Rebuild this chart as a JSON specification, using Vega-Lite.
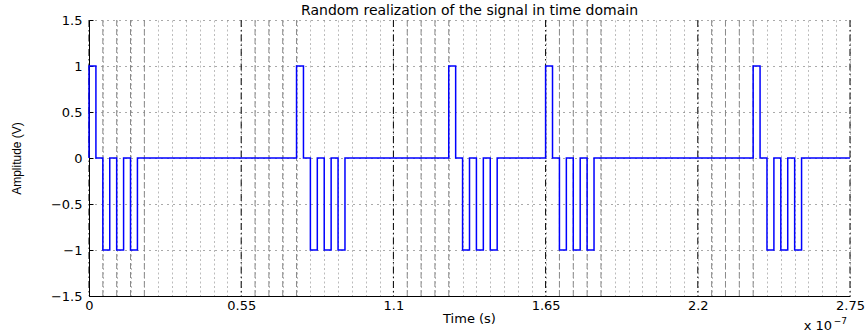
{
  "$schema": "https://vega.github.io/schema/vega-lite/v6.json",
  "width": 761,
  "height": 276,
  "autosize": {"type": "none"},
  "padding": {"left": 89, "top": 20, "right": 16, "bottom": 39},
  "background": "white",
  "config": {
    "view": {"stroke": null},
    "font": "DejaVu Sans",
    "axisX": {
      "labelExpr": "datum.value % 55 === 0 ? toString(datum.value / 100) : ''",
      "labelOverlap": false,
      "labelFlush": false,
      "labelFont": "DejaVu Sans",
      "labelFontSize": 13,
      "labelColor": "black",
      "labelPadding": 7,
      "tickSize": -4,
      "tickColor": "black",
      "tickOpacity": {"condition": {"test": "datum.value % 55 === 0", "value": 1}, "value": 0},
      "grid": true,
      "gridColor": "#bcbcbc",
      "gridDash": [2, 2.5],
      "gridWidth": 1,
      "domainColor": "black",
      "domainWidth": 1,
      "titleFont": "DejaVu Sans",
      "titleFontSize": 13,
      "titleFontWeight": "normal",
      "titleColor": "black",
      "titleX": 380,
      "titleY": 22,
      "titleAlign": "center",
      "titleBaseline": "middle"
    },
    "axisY": {
      "labelExpr": "replace(toString(datum.value), '-', '\u2212')",
      "labelOverlap": false,
      "labelFlush": false,
      "labelFont": "DejaVu Sans",
      "labelFontSize": 13,
      "labelColor": "black",
      "labelPadding": 11,
      "tickSize": -4,
      "tickColor": "black",
      "grid": true,
      "gridColor": "#555555",
      "gridDash": [1, 5],
      "gridWidth": 1,
      "domainColor": "black",
      "domainWidth": 1,
      "titleFont": "Liberation Sans",
      "titleFontSize": 12,
      "titleFontWeight": "normal",
      "titleColor": "black",
      "titleAngle": -90,
      "titleX": -73,
      "titleY": 138,
      "titleAlign": "center",
      "titleBaseline": "middle"
    }
  },
  "title": {
    "text": "Random realization of the signal in time domain",
    "font": "DejaVu Sans",
    "fontSize": 14,
    "fontWeight": "normal",
    "color": "black",
    "anchor": "middle",
    "offset": 4,
    "dy": 8
  },
  "datasets": {
    "signal": [
      {"t": 0, "v": 0}, {"t": 0, "v": 1}, {"t": 2.5, "v": 0}, {"t": 5, "v": -1}, {"t": 7.5, "v": 0},
      {"t": 10, "v": -1}, {"t": 12.5, "v": 0}, {"t": 15, "v": -1}, {"t": 17.5, "v": 0},
      {"t": 75, "v": 1}, {"t": 77.5, "v": 0}, {"t": 80, "v": -1}, {"t": 82.5, "v": 0},
      {"t": 85, "v": -1}, {"t": 87.5, "v": 0}, {"t": 90, "v": -1}, {"t": 92.5, "v": 0},
      {"t": 130, "v": 1}, {"t": 132.5, "v": 0}, {"t": 135, "v": -1}, {"t": 137.5, "v": 0},
      {"t": 140, "v": -1}, {"t": 142.5, "v": 0}, {"t": 145, "v": -1}, {"t": 147.5, "v": 0},
      {"t": 165, "v": 1}, {"t": 167.5, "v": 0}, {"t": 170, "v": -1}, {"t": 172.5, "v": 0},
      {"t": 175, "v": -1}, {"t": 177.5, "v": 0}, {"t": 180, "v": -1}, {"t": 182.5, "v": 0},
      {"t": 240, "v": 1}, {"t": 242.5, "v": 0}, {"t": 245, "v": -1}, {"t": 247.5, "v": 0},
      {"t": 250, "v": -1}, {"t": 252.5, "v": 0}, {"t": 255, "v": -1}, {"t": 257.5, "v": 0},
      {"t": 275, "v": 0}
    ],
    "frames": [{"t": 0}, {"t": 55}, {"t": 110}, {"t": 165}, {"t": 220}, {"t": 275}],
    "chips": [
      {"t": 5}, {"t": 10}, {"t": 15}, {"t": 20},
      {"t": 60}, {"t": 65}, {"t": 70}, {"t": 75},
      {"t": 115}, {"t": 120}, {"t": 125}, {"t": 130},
      {"t": 170}, {"t": 175}, {"t": 180}, {"t": 185},
      {"t": 225}, {"t": 230}, {"t": 235}, {"t": 240}
    ]
  },
  "layer": [
    {
      "data": {"name": "chips"},
      "mark": {"type": "rule", "color": "#8a8a8a", "strokeDash": [6, 3], "strokeWidth": 1},
      "encoding": {"x": {"field": "t", "type": "quantitative", "title": "Time (s)",
        "axis": {"values": [0, 5, 10, 15, 20, 25, 30, 35, 40, 45, 50, 55, 60, 65, 70, 75, 80, 85, 90, 95, 100, 105, 110, 115, 120, 125, 130, 135, 140, 145, 150, 155, 160, 165, 170, 175, 180, 185, 190, 195, 200, 205, 210, 215, 220, 225, 230, 235, 240, 245, 250, 255, 260, 265, 270, 275]}}}
    },
    {
      "data": {"name": "frames"},
      "mark": {"type": "rule", "color": "black", "strokeDash": [7, 3, 1.5, 3], "strokeWidth": 1},
      "encoding": {"x": {"field": "t", "type": "quantitative", "title": "Time (s)",
        "axis": {"values": [0, 5, 10, 15, 20, 25, 30, 35, 40, 45, 50, 55, 60, 65, 70, 75, 80, 85, 90, 95, 100, 105, 110, 115, 120, 125, 130, 135, 140, 145, 150, 155, 160, 165, 170, 175, 180, 185, 190, 195, 200, 205, 210, 215, 220, 225, 230, 235, 240, 245, 250, 255, 260, 265, 270, 275]}}}
    },
    {
      "data": {"name": "signal"},
      "mark": {"type": "line", "interpolate": "step-after", "color": "#0000ff", "strokeWidth": 1.5},
      "encoding": {
        "order": {"value": null},
        "x": {
          "field": "t",
          "type": "quantitative",
          "title": "Time (s)",
          "scale": {"domain": [0, 275], "nice": false, "zero": false},
          "axis": {"values": [0, 5, 10, 15, 20, 25, 30, 35, 40, 45, 50, 55, 60, 65, 70, 75, 80, 85, 90, 95, 100, 105, 110, 115, 120, 125, 130, 135, 140, 145, 150, 155, 160, 165, 170, 175, 180, 185, 190, 195, 200, 205, 210, 215, 220, 225, 230, 235, 240, 245, 250, 255, 260, 265, 270, 275]}
        },
        "y": {
          "field": "v",
          "type": "quantitative",
          "title": "Amplitude (V)",
          "scale": {"domain": [-1.5, 1.5], "nice": false, "zero": false},
          "axis": {"values": [-1.5, -1, -0.5, 0, 0.5, 1, 1.5]}
        }
      }
    },
    {
      "data": {"values": [{}]},
      "mark": {"type": "text", "text": "x 10", "align": "right", "baseline": "middle", "dx": -18, "dy": 30, "fontSize": 13, "font": "DejaVu Sans", "color": "black"},
      "encoding": {
        "x": {"datum": 275, "type": "quantitative", "title": "Time (s)",
          "axis": {"values": [0, 5, 10, 15, 20, 25, 30, 35, 40, 45, 50, 55, 60, 65, 70, 75, 80, 85, 90, 95, 100, 105, 110, 115, 120, 125, 130, 135, 140, 145, 150, 155, 160, 165, 170, 175, 180, 185, 190, 195, 200, 205, 210, 215, 220, 225, 230, 235, 240, 245, 250, 255, 260, 265, 270, 275]}},
        "y": {"datum": -1.5, "type": "quantitative", "title": "Amplitude (V)",
          "axis": {"values": [-1.5, -1, -0.5, 0, 0.5, 1, 1.5]}}
      }
    },
    {
      "data": {"values": [{}]},
      "mark": {"type": "text", "text": "\u22127", "align": "right", "baseline": "middle", "dx": -3, "dy": 25, "fontSize": 9, "font": "DejaVu Sans", "color": "black"},
      "encoding": {
        "x": {"datum": 275, "type": "quantitative", "title": "Time (s)",
          "axis": {"values": [0, 5, 10, 15, 20, 25, 30, 35, 40, 45, 50, 55, 60, 65, 70, 75, 80, 85, 90, 95, 100, 105, 110, 115, 120, 125, 130, 135, 140, 145, 150, 155, 160, 165, 170, 175, 180, 185, 190, 195, 200, 205, 210, 215, 220, 225, 230, 235, 240, 245, 250, 255, 260, 265, 270, 275]}},
        "y": {"datum": -1.5, "type": "quantitative", "title": "Amplitude (V)",
          "axis": {"values": [-1.5, -1, -0.5, 0, 0.5, 1, 1.5]}}
      }
    }
  ]
}
